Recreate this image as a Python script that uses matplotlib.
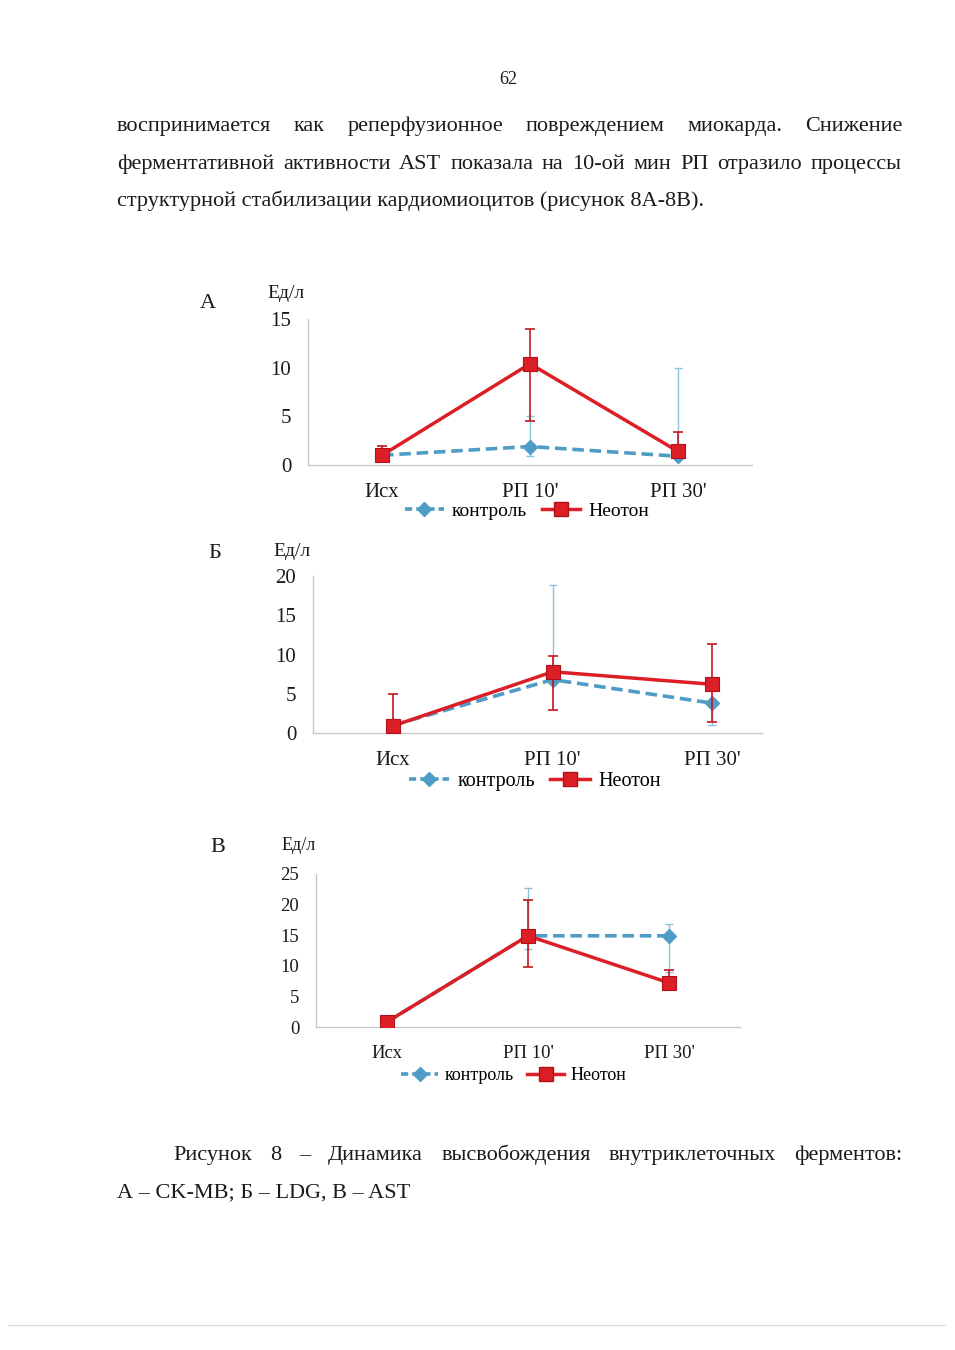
import matplotlib
matplotlib.use("Agg")
import matplotlib.pyplot as plt
from matplotlib.lines import Line2D
import numpy as np

plt.rcParams['font.family'] = ['Liberation Serif', 'DejaVu Serif']

# ---------------- data ----------------
categories = ["Исх", "РП 10'", "РП 30'"]
series_names = ["контроль", "Неотон"]

# Panel A (CK-MB)
a_control = [1.0, 1.9, 0.9]
a_control_lo = [1.0, 0.9, 0.9]
a_control_hi = [1.0, 5.0, 10.0]
a_neoton = [1.0, 10.4, 1.4]
a_neoton_lo = [1.0, 4.5, 1.4]
a_neoton_hi = [2.0, 14.0, 3.4]
a_ticks = [0, 5, 10, 15]

# Panel Б (LDG)
b_control = [1.0, 6.8, 3.8]
b_control_lo = [1.0, 6.8, 1.0]
b_control_hi = [1.0, 18.9, 3.8]
b_neoton = [0.9, 7.8, 6.2]
b_neoton_lo = [0.9, 2.9, 1.4]
b_neoton_hi = [5.0, 9.8, 11.3]
b_ticks = [0, 5, 10, 15, 20]

# Panel В (AST)
c_control = [0.8, 14.9, 14.9]
c_control_lo = [0.8, 12.7, 9.0]
c_control_hi = [0.8, 22.7, 16.8]
c_neoton = [0.8, 14.9, 7.2]
c_neoton_lo = [0.8, 9.8, 7.2]
c_neoton_hi = [0.8, 20.7, 9.3]
c_ticks = [0, 5, 10, 15, 20, 25]

W, H = 955, 1350
fig = plt.figure(figsize=(W / 100, H / 100), dpi=100)
fig.patch.set_facecolor('white')

BLUE = '#4f9cc6'
BLUE_ERR = '#8cc3de'
RED = '#dc1f26'
RED_ERR = '#c4161c'
TXT = '#1a1a1a'


def fx(x):
    return x / W


def fy(y):
    return 1 - y / H


def panel(rect, xmax, ctl, ctl_lo, ctl_hi, neo, neo_lo, neo_hi, ticks, tick_fs, leg_xy, leg_fs):
    l, t, r, b = rect
    ax = fig.add_axes([fx(l), fy(b), fx(r) - fx(l), (b - t) / H])
    x = np.arange(len(categories))
    ctl = np.array(ctl); neo = np.array(neo)
    ctl_err = np.array([ctl - np.array(ctl_lo), np.array(ctl_hi) - ctl])
    neo_err = np.array([neo - np.array(neo_lo), np.array(neo_hi) - neo])
    ax.errorbar(x, ctl, yerr=ctl_err, fmt='none', ecolor=BLUE_ERR, elinewidth=1.0,
                capsize=3, capthick=1.0, zorder=2)
    ax.plot(x, ctl, color=BLUE, lw=2.6, ls=(0, (3.2, 1.6)), marker='D', ms=7,
            mfc=BLUE, mec=BLUE, zorder=3)
    ax.errorbar(x, neo, yerr=neo_err, fmt='none', ecolor=RED_ERR, elinewidth=1.2,
                capsize=3.5, capthick=1.2, zorder=4)
    ax.plot(x, neo, color=RED, lw=2.5, marker='s', ms=10, mfc=RED, mec='#b01016',
            mew=0.8, zorder=5)
    ax.set_xlim(-0.5, xmax)
    ax.set_ylim(ticks[0], ticks[-1])
    ax.set_yticks(ticks)
    ax.set_yticklabels([str(v) for v in ticks], fontsize=tick_fs, color=TXT)
    ax.set_xticks(x)
    ax.set_xticklabels(categories, fontsize=tick_fs, color=TXT)
    ax.tick_params(axis='both', length=0)
    ax.tick_params(axis='y', pad=12)
    ax.tick_params(axis='x', pad=13)
    for s in ['top', 'right']:
        ax.spines[s].set_visible(False)
    for s in ['left', 'bottom']:
        ax.spines[s].set_color('#c8c8c8')
        ax.spines[s].set_linewidth(1.0)
    ax.set_facecolor('none')
    handles = [
        Line2D([], [], color=BLUE, lw=2.6, ls=(0, (2.0, 1.1)), marker='D', ms=7, mfc=BLUE, mec=BLUE),
        Line2D([], [], color=RED, lw=2.5, marker='s', ms=10, mfc=RED, mec='#b01016'),
    ]
    fig.legend(handles, series_names, loc='center', bbox_to_anchor=(fx(leg_xy[0]), fy(leg_xy[1])),
               ncol=2, frameon=False, fontsize=leg_fs, handlelength=2.0, columnspacing=0.75,
               handletextpad=0.4, borderpad=0)
    return ax


panel((308, 319, 752, 465), 2.5, a_control, a_control_lo, a_control_hi,
      a_neoton, a_neoton_lo, a_neoton_hi, a_ticks, 15, (527, 511), 14)
panel((313, 576, 762, 733), 2.31, b_control, b_control_lo, b_control_hi,
      b_neoton, b_neoton_lo, b_neoton_hi, b_ticks, 15, (535, 781), 14.5)
panel((316, 874, 740, 1027), 2.5, c_control, c_control_lo, c_control_hi,
      c_neoton, c_neoton_lo, c_neoton_hi, c_ticks, 13.5, (514, 1076), 13)

# panel letters and units
for letter, (lx, ly), (ux, uy), ufs in [("А", (208, 303), (286, 293), 14),
                                       ("Б", (215, 554), (292, 552), 14),
                                       ("В", (218, 848), (299, 846), 13)]:
    fig.text(fx(lx), fy(ly), letter, fontsize=16, ha='center', va='center', color=TXT)
    fig.text(fx(ux), fy(uy), "Ед/л", fontsize=ufs, ha='center', va='center', color=TXT)

# page text
fig.text(fx(508), fy(79), "62", fontsize=13, ha='center', va='center', color=TXT)

renderer = fig.canvas.get_renderer()


def justify(words, x0, x1, y, fs):
    txts = [fig.text(0, fy(y), w, fontsize=fs, ha='left', va='baseline', color=TXT) for w in words]
    widths = [t.get_window_extent(renderer).width for t in txts]
    gap = (x1 - x0 - sum(widths)) / (len(words) - 1)
    pos = x0
    for t, w in zip(txts, widths):
        t.set_x(fx(pos))
        pos += w + gap


line1 = "воспринимается как реперфузионное повреждением миокарда. Снижение".split()
line2 = "ферментативной активности AST показала на 10-ой мин РП отразило процессы".split()
justify(line1, 117, 902, 131, 16)
justify(line2, 117, 902, 169, 16)
fig.text(fx(117), fy(206), "структурной стабилизации кардиомиоцитов (рисунок 8А-8В).",
         fontsize=16, ha='left', va='baseline', color=TXT)

cap1 = "Рисунок 8 – Динамика высвобождения внутриклеточных ферментов:".split()
justify(cap1, 173, 902, 1160, 16)
fig.text(fx(117), fy(1197), "А – CK-MB; Б – LDG, В – AST", fontsize=16,
         ha='left', va='baseline', color=TXT)

fig.add_artist(Line2D([fx(8), fx(945)], [fy(1325), fy(1325)], color='#d8d8d8', lw=0.8))

fig.savefig("out.png", dpi=100, facecolor='white')
